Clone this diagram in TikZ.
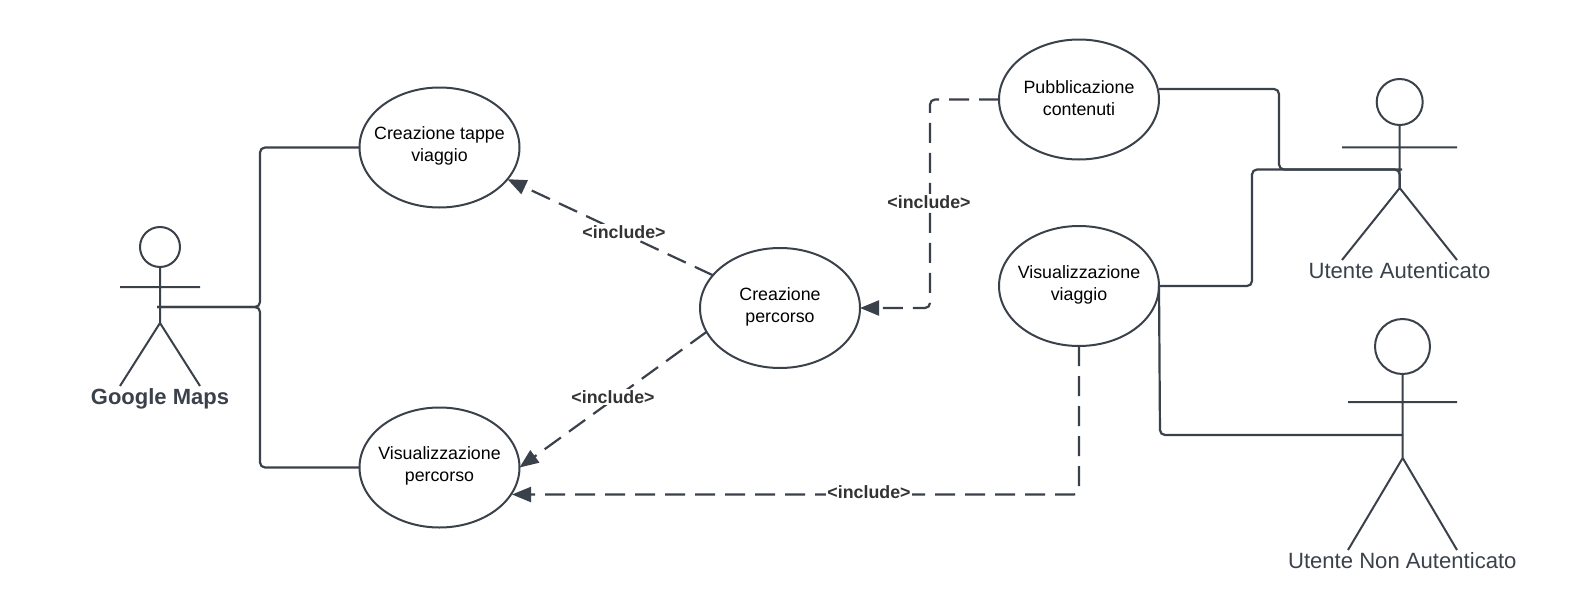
\documentclass[tikz,border=0pt]{standalone}
\usepackage{fontspec}
\setmainfont{Liberation Sans}
\usetikzlibrary{shapes.geometric,arrows.meta}
\definecolor{ln}{HTML}{3A414A}
\definecolor{inc}{HTML}{333333}
\tikzset{
  uctext/.style={align=center,text=black,font=\fontsize{17.8}{22}\selectfont,inner sep=0pt,yshift=1.6pt},
  usecase/.style={ellipse,draw=ln,line width=2pt,minimum width=160pt,minimum height=120pt,inner sep=0pt,outer sep=0pt,fill=white},
  assoc/.style={draw=ln,line width=2.2pt,rounded corners=5pt},
  incl/.style={draw=ln,line width=2.2pt,rounded corners=5pt,dash pattern=on 20pt off 10pt,-{Triangle[length=19pt,width=15pt,fill=ln]}},
  incltext/.style={font=\fontsize{17.8}{20}\bfseries\selectfont,text=inc,fill=white,inner sep=1pt},
  actorline/.style={draw=ln,line width=2pt},
  actorhead/.style={circle,draw=ln,line width=2pt,inner sep=0pt,outer sep=0pt},
  actortext/.style={text=ln,inner sep=0pt,font=\fontsize{22.1}{26}\selectfont},
}
\begin{document}
\begin{tikzpicture}[x=1pt,y=-1pt]
\useasboundingbox (0,0) rectangle (1577,613);
% use cases
\node[usecase,label={[uctext]center:{Creazione tappe\\viaggio}}] (ct) at (439.5,147.5) {};
\node[usecase,label={[uctext]center:{Visualizzazione\\percorso}}] (vp) at (439.5,467.5) {};
\node[usecase,label={[uctext]center:{Creazione\\percorso}}] (cp) at (780,308) {};
\node[usecase,label={[uctext]center:{Pubblicazione\\contenuti}}] (pc) at (1079,99.5) {};
\node[usecase,label={[uctext]center:{Visualizzazione\\viaggio}}] (vv) at (1079,286) {};
\coordinate (vpin) at (512,494.5);
% actor: Google Maps
\node[actorhead,minimum size=40pt] (gh) at (160,247) {};
\coordinate (gsl) at (120,287); \coordinate (gsr) at (200,287);
\coordinate (ghip) at (160,323); \coordinate (gll) at (120,386); \coordinate (glr) at (200,386);
\coordinate (gc) at (157,307);
\draw[actorline] (gh.south) -- (ghip) (gsl) -- (gsr) (gll) -- (ghip) -- (glr);
\node[actortext,font=\fontsize{22}{26}\bfseries\selectfont] (gt) at (160,399) {Google Maps};
% actor: Utente Autenticato
\node[actorhead,minimum size=46pt] (ah) at (1399.7,102) {};
\coordinate (asl) at (1342,147.3); \coordinate (asr) at (1457,147.3);
\coordinate (ahip) at (1399.7,188); \coordinate (all) at (1342,260); \coordinate (alr) at (1457,260);
\coordinate (ac) at (1402,169.5);
\draw[actorline] (ah.south) -- (ahip) (asl) -- (asr) (all) -- (ahip) -- (alr);
\node[actortext] (at) at (1399.5,271) {Utente Autenticato};
% actor: Utente Non Autenticato
\node[actorhead,minimum size=55pt] (nh) at (1402.5,346.5) {};
\coordinate (nsl) at (1348,402); \coordinate (nsr) at (1457,402);
\coordinate (nhip) at (1402.7,458); \coordinate (nll) at (1348,550); \coordinate (nlr) at (1457,550);
\coordinate (nc) at (1403,435);
\draw[actorline] (nh.south) -- (nhip) (nsl) -- (nsr) (nll) -- (nhip) -- (nlr);
\node[actortext] (nt) at (1402.3,561) {Utente Non Autenticato};
% associations
\draw[assoc] (gc) -- (260,307) -- (260,147.5) -- (ct.west);
\draw[assoc] (gc) -- (260,307) -- (260,467.5) -- (vp.west);
\draw[assoc] ([yshift=10.5pt]pc.east) -- (1279,89) -- (1279,169.5) -- (ac);
\draw[assoc] (vv.east) -- (1252,286) -- (1252,169.5) -- (1399.7,169.5) -- (ahip);
\draw[assoc] (vv.east) -- (1160,435) -- (nc);
% includes
\draw[incl] (cp.154) -- (ct.-25);
\draw[incl] (cp.198) -- (vp.east);
\draw[incl] (pc.west) -- (930,99.5) -- (930,308) -- (cp.east);
\draw[incl] (vv.south) -- (1079,494.5) -- (vpin);
\node[incltext] (l1) at (624,232) {<include>};
\node[incltext] (l2) at (613,397) {<include>};
\node[incltext] (l3) at (929,202) {<include>};
\node[incltext] (l4) at (869,492) {<include>};
\end{tikzpicture}
\end{document}
